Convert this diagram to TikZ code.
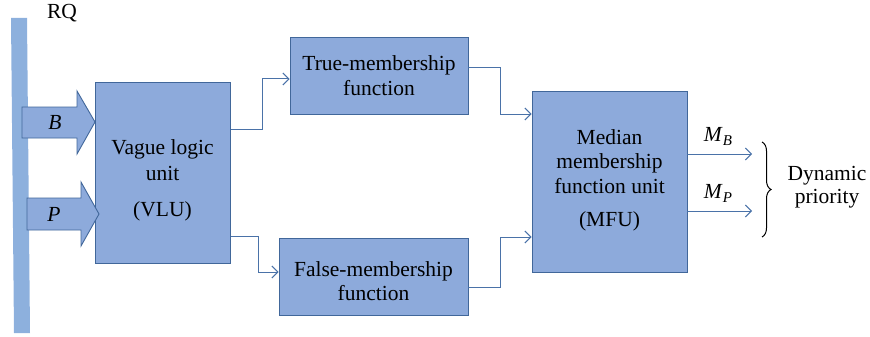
\documentclass[tikz,border=0pt]{standalone}
\usepackage{fontspec}
\setmainfont{Liberation Serif}
\usetikzlibrary{arrows.meta,decorations.pathreplacing}
\definecolor{boxfill}{HTML}{8DAADB}
\definecolor{boxline}{HTML}{41679A}
\definecolor{conn}{HTML}{4A72A8}
\definecolor{barfill}{HTML}{8DB0DD}
\newcommand{\subsc}[2]{\textit{#1}\raisebox{-4pt}{\fontsize{15}{15}\selectfont\textit{#2}}}
\tikzset{
  blk/.style={draw=boxline, fill=boxfill, line width=0.9pt, inner sep=0pt, align=center, font=\fontsize{21.5}{25.5}\selectfont},
  link/.style={draw=conn, line width=1pt, -{Straight Barb[length=6pt,width=12pt,line width=1pt]}},
  lbl/.style={font=\fontsize{21.5}{24}\selectfont, inner sep=0pt},
}
\begin{document}
\begin{tikzpicture}[x=1pt,y=-1pt]
\useasboundingbox (0,0) rectangle (870,337);
% RQ bar
\fill[barfill] (11,18) -- (27,18) -- (30,333) -- (14,333) -- cycle;
\node[lbl] (rq) at (62,13) {RQ};
% VLU
\node[blk, minimum width=135pt, minimum height=181pt] (vlu) at (162.5,172.5) {};
\node[lbl, align=center, font=\fontsize{21.5}{26.5}\selectfont] (vlut) at (162.5,180) {Vague logic\\unit\\[9pt](VLU)};
% block arrows
\draw[draw=boxline, fill=boxfill, line width=0.9pt] (22,107) -- (77,107) -- (77,91) -- (95,122) -- (77,154) -- (77,138) -- (22,138) -- cycle;
\draw[draw=boxline, fill=boxfill, line width=0.9pt] (27,198) -- (81,198) -- (81,182) -- (99,214) -- (81,246) -- (81,230) -- (27,230) -- cycle;
\node[lbl] (b) at (55,122) {\textit{B}};
\node[lbl] (p) at (54,214) {\textit{P}};
% true / false
\node[blk, minimum width=178pt, minimum height=77pt] (tru) at (379,75.5) {True-membership\\function};
\node[blk, minimum width=189pt, minimum height=77pt] (fal) at (373.5,276.5) {};
\node[lbl, align=center, font=\fontsize{21.5}{24.5}\selectfont] (falt) at (373.5,281) {False-membership\\function};
% MFU
\node[blk, minimum width=155pt, minimum height=181pt] (mfu) at (609.5,181.5) {};
\node[lbl, align=center, font=\fontsize{21.5}{24.5}\selectfont] (mfut) at (609.5,180.5) {Median\\membership\\function unit\\[9pt](MFU)};
% connectors
\coordinate (v1) at (231,129);
\coordinate (v2) at (231,236);
\draw[link] (v1) -| (262,79) -- (tru.west |- 0,79);
\draw[link] (v2) -| (258,272) -- (fal.west |- 0,272);
\draw[link] (tru.east |- 0,68) -| (500,114) -- (mfu.west |- 0,114);
\draw[link] (fal.east |- 0,287) -| (500,237) -- (mfu.west |- 0,237);
\coordinate (mbend) at (752,154);
\coordinate (mpend) at (752,211);
\draw[link] (mfu.east |- mbend) -- (mbend);
\draw[link] (mfu.east |- mpend) -- (mpend);
\node[lbl] (mb) at (718,136) {\subsc{M}{B}};
\node[lbl] (mp) at (718,193) {\subsc{M}{P}};
% brace
\draw[line width=1pt, decoration={brace, amplitude=9pt}, decorate] (762,142) -- (762,237);
\node[lbl, align=center, font=\fontsize{21.5}{23.5}\selectfont] (dyn) at (827,187) {Dynamic\\priority};
\end{tikzpicture}
\end{document}
